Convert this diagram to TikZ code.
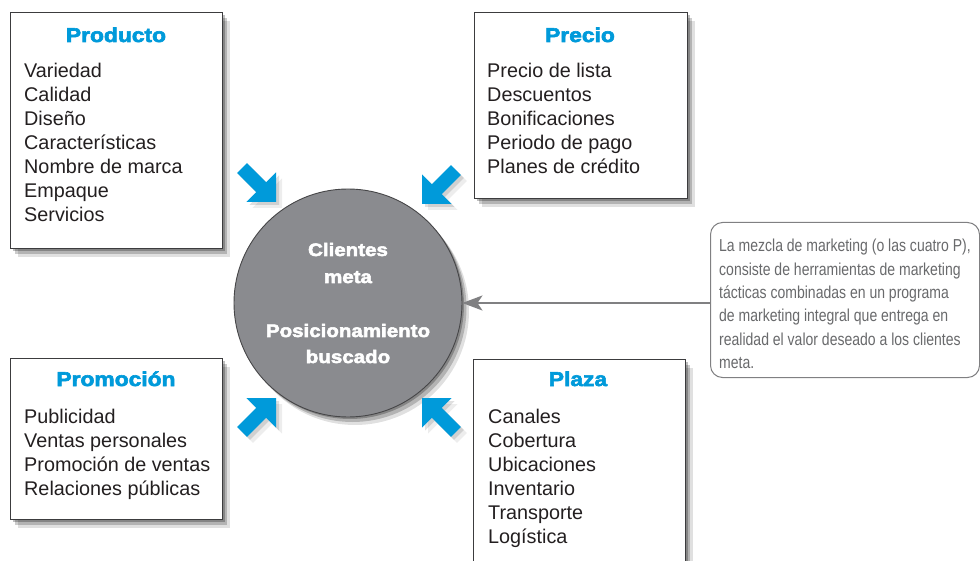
\documentclass[tikz,border=0pt]{standalone}
\usepackage{fontspec}
\setmainfont{Liberation Sans}
\newfontfamily\blackfont[FakeStretch=1.14,FakeBold=3]{Liberation Sans Bold}
\newfontfamily\condfont[FakeStretch=0.81]{Liberation Sans}
\usetikzlibrary{shadows,arrows.meta}
\definecolor{pblue}{RGB}{0,154,218}
\definecolor{circgray}{RGB}{138,139,143}
\definecolor{circline}{RGB}{70,70,72}
\definecolor{txtdark}{RGB}{35,31,32}
\definecolor{boxline}{RGB}{60,60,62}
\definecolor{calloutgray}{RGB}{105,106,108}
\definecolor{linegray}{RGB}{128,128,130}
\begin{document}
\begin{tikzpicture}[x=1pt,y=-1pt,
  softshadow/.style={
    drop shadow={shadow xshift=2pt,shadow yshift=-2pt,opacity=.25,fill=black},
    drop shadow={shadow xshift=4.5pt,shadow yshift=-5pt,opacity=.2,fill=black},
    drop shadow={shadow xshift=7pt,shadow yshift=-8pt,opacity=.12,fill=black}},
  lightshadow/.style={
    drop shadow={shadow xshift=3pt,shadow yshift=-3pt,opacity=.12,fill=black},
    drop shadow={shadow xshift=6pt,shadow yshift=-6pt,opacity=.07,fill=black}},
  mixbox/.style={draw=boxline,line width=1.1pt,fill=white,rectangle,inner sep=0pt,
    anchor=north west,minimum width=212pt,softshadow},
  boxtitle/.style={text=pblue,font=\blackfont\fontsize{20}{24}\selectfont,anchor=base,inner sep=0pt},
  boxitems/.style={text=txtdark,font=\fontsize{19.8}{24}\selectfont,align=left,anchor=north west,inner sep=0pt},
  circtext/.style={text=white,font=\blackfont\fontsize{18}{22}\selectfont,anchor=base,inner sep=0pt},
  callouttext/.style={text=calloutgray,font=\condfont\fontsize{17.3}{23.4}\selectfont,align=left,anchor=north west,inner sep=0pt},
  bluearrow/.pic={\fill[pblue,lightshadow] (0,0) -- (-21,21) -- (-21,7) -- (-48,7) -- (-48,-7) -- (-21,-7) -- (-21,-21) -- cycle;}
]
\useasboundingbox (0,0) rectangle (980,561);
\fill[white] (0,0) rectangle (980,561);

% boxes
\node[mixbox,minimum height=236pt] (prod) at (10,12) {};
\node[mixbox,minimum height=186pt,minimum width=213pt] (prec) at (474,12) {};
\node[mixbox,minimum height=161pt] (prom) at (10,358) {};
\node[mixbox,minimum height=235pt] (plaz) at (473,359) {};

% titles
\node[boxtitle] (prodT) at (116,42) {Producto};
\node[boxtitle] (precT) at (580,42) {Precio};
\node[boxtitle] (promT) at (116,386) {Promoción};
\node[boxtitle] (plazT) at (578,386) {Plaza};

% items
\node[boxitems] (prodL) at (24,63) {Variedad\\Calidad\\Diseño\\Características\\Nombre de marca\\Empaque\\Servicios};
\node[boxitems] (precL) at (487,63) {Precio de lista\\Descuentos\\Bonificaciones\\Periodo de pago\\Planes de crédito};
\node[boxitems] (promL) at (24,409) {Publicidad\\Ventas personales\\Promoción de ventas\\Relaciones públicas};
\node[boxitems] (plazL) at (488,409) {Canales\\Cobertura\\Ubicaciones\\Inventario\\Transporte\\Logística};

% central circle
\node[circle,draw=circline,line width=0.9pt,fill=circgray,minimum size=228pt,inner sep=0pt,softshadow] (circ) at (348,303) {};
\node[circtext] (c1) at (348,256) {Clientes};
\node[circtext] (c2) at (348,283) {meta};
\node[circtext] (c3) at (348,337) {Posicionamiento};
\node[circtext] (c4) at (348,363) {buscado};

% blue arrows
\pic[rotate=-45] at (276,202) {bluearrow};
\pic[rotate=-135] at (422,204) {bluearrow};
\pic[rotate=45] at (276,398) {bluearrow};
\pic[rotate=135] at (422,398) {bluearrow};

% callout
\node[draw=linegray,line width=1pt,rounded corners=12pt,fill=white,anchor=north west,
  minimum width=269pt,minimum height=155pt,inner sep=0pt] (callout) at (710,222) {};
\node[callouttext] (calloutT) at (719,239) {La mezcla de marketing (o las cuatro P),\\consiste de herramientas de marketing\\tácticas combinadas en un programa\\de marketing integral que entrega en\\realidad el valor deseado a los clientes\\meta.};

\draw[linegray,line width=2pt,-{Stealth[length=20pt,width=15pt,inset=5pt]}] (callout.west |- circ.east) -- (circ.east);
\end{tikzpicture}
\end{document}
